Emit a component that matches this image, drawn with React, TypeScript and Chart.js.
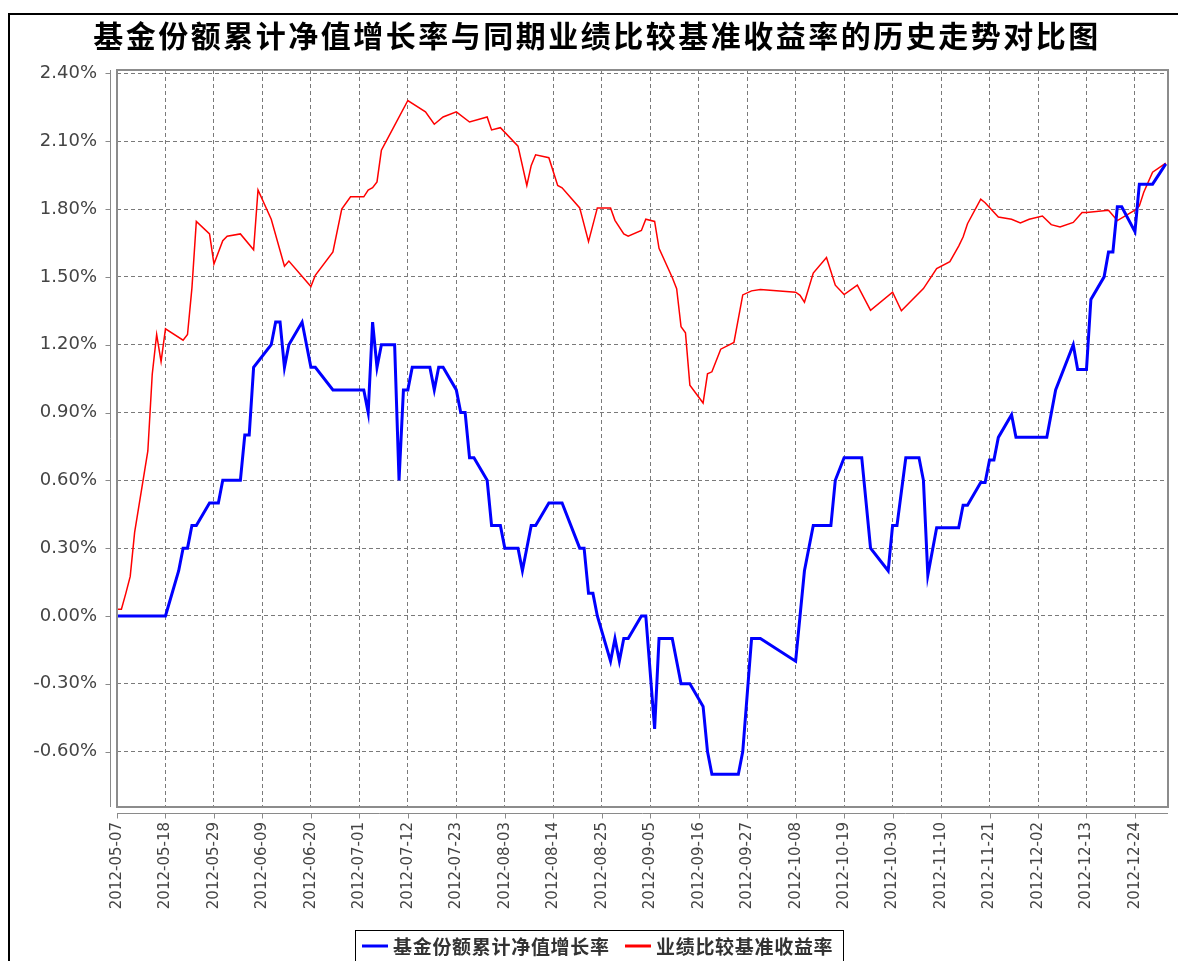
import React, { useEffect, useRef } from 'react';
import { Chart, registerables } from 'chart.js';

Chart.register(...registerables);

const W = 1178;
const H = 961;

const TITLE = '基金份额累计净值增长率与同期业绩比较基准收益率的历史走势对比图';
const SERIES_NAMES = ['基金份额累计净值增长率', '业绩比较基准收益率'];
const SERIES_COLORS = ['#0000ff', '#ff0000'];

const START_DATE = '2012-05-07';
const END_DATE = '2012-12-31';

const xTickLabels = [
  '2012-05-07', '2012-05-18', '2012-05-29', '2012-06-09', '2012-06-20', '2012-07-01',
  '2012-07-12', '2012-07-23', '2012-08-03', '2012-08-14', '2012-08-25', '2012-09-05',
  '2012-09-16', '2012-09-27', '2012-10-08', '2012-10-19', '2012-10-30', '2012-11-10',
  '2012-11-21', '2012-12-02', '2012-12-13', '2012-12-24',
];

const yTicks = [-0.6, -0.3, 0, 0.3, 0.6, 0.9, 1.2, 1.5, 1.8, 2.1, 2.4];
const Y_MIN = -0.845;
const Y_MAX = 2.415;

const fundDates = [
  '2012-05-07', '2012-05-18', '2012-05-21', '2012-05-22', '2012-05-23', '2012-05-24', '2012-05-25', '2012-05-28', '2012-05-30', '2012-05-31',
  '2012-06-04', '2012-06-05', '2012-06-06', '2012-06-07', '2012-06-11', '2012-06-12', '2012-06-13', '2012-06-14', '2012-06-15', '2012-06-18',
  '2012-06-20', '2012-06-21', '2012-06-25', '2012-07-02', '2012-07-03', '2012-07-04', '2012-07-05', '2012-07-06', '2012-07-09', '2012-07-10',
  '2012-07-11', '2012-07-12', '2012-07-13', '2012-07-17', '2012-07-18', '2012-07-19', '2012-07-20', '2012-07-23', '2012-07-24', '2012-07-25',
  '2012-07-26', '2012-07-27', '2012-07-30', '2012-07-31', '2012-08-02', '2012-08-03', '2012-08-06', '2012-08-07', '2012-08-09', '2012-08-10',
  '2012-08-13', '2012-08-16', '2012-08-20', '2012-08-21', '2012-08-22', '2012-08-23', '2012-08-24', '2012-08-27', '2012-08-28', '2012-08-29',
  '2012-08-30', '2012-08-31', '2012-09-03', '2012-09-04', '2012-09-06', '2012-09-07', '2012-09-10', '2012-09-12', '2012-09-14', '2012-09-17',
  '2012-09-18', '2012-09-19', '2012-09-25', '2012-09-26', '2012-09-28', '2012-09-30', '2012-10-08', '2012-10-09', '2012-10-10', '2012-10-12',
  '2012-10-16', '2012-10-17', '2012-10-19', '2012-10-23', '2012-10-24', '2012-10-25', '2012-10-29', '2012-10-30', '2012-10-31', '2012-11-02',
  '2012-11-05', '2012-11-06', '2012-11-07', '2012-11-09', '2012-11-14', '2012-11-15', '2012-11-16', '2012-11-19', '2012-11-20', '2012-11-21',
  '2012-11-22', '2012-11-23', '2012-11-26', '2012-11-27', '2012-12-04', '2012-12-06', '2012-12-10', '2012-12-11', '2012-12-13', '2012-12-14',
  '2012-12-17', '2012-12-18', '2012-12-19', '2012-12-20', '2012-12-21', '2012-12-24', '2012-12-25', '2012-12-28', '2012-12-31',
];
const fundValues = [
  0.0, 0.0, 0.2, 0.3, 0.3, 0.4, 0.4, 0.5, 0.5, 0.6,
  0.6, 0.8, 0.8, 1.1, 1.2, 1.3, 1.3, 1.1, 1.2, 1.3,
  1.1, 1.1, 1.0, 1.0, 0.9, 1.3, 1.1, 1.2, 1.2, 0.6,
  1.0, 1.0, 1.1, 1.1, 1.0, 1.1, 1.1, 1.0, 0.9, 0.9,
  0.7, 0.7, 0.6, 0.4, 0.4, 0.3, 0.3, 0.2, 0.4, 0.4,
  0.5, 0.5, 0.3, 0.3, 0.1, 0.1, 0.0, -0.2, -0.1, -0.2,
  -0.1, -0.1, 0.0, 0.0, -0.5, -0.1, -0.1, -0.3, -0.3, -0.4,
  -0.6, -0.7, -0.7, -0.6, -0.1, -0.1, -0.2, 0.0, 0.2, 0.4,
  0.4, 0.6, 0.7, 0.7, 0.5, 0.3, 0.2, 0.4, 0.4, 0.7,
  0.7, 0.6, 0.18, 0.39, 0.39, 0.49, 0.49, 0.59, 0.59, 0.69,
  0.69, 0.79, 0.89, 0.79, 0.79, 1.0, 1.2, 1.09, 1.09, 1.4,
  1.5, 1.61, 1.61, 1.81, 1.81, 1.7, 1.91, 1.91, 2.0,
];

const benchDates = [
  '2012-05-07', '2012-05-08', '2012-05-09', '2012-05-10', '2012-05-11', '2012-05-14', '2012-05-15', '2012-05-16', '2012-05-17', '2012-05-18',
  '2012-05-22', '2012-05-23', '2012-05-24', '2012-05-25', '2012-05-28', '2012-05-29', '2012-05-31', '2012-06-01', '2012-06-04', '2012-06-07',
  '2012-06-08', '2012-06-11', '2012-06-14', '2012-06-15', '2012-06-20', '2012-06-21', '2012-06-25', '2012-06-27', '2012-06-29', '2012-07-02',
  '2012-07-03', '2012-07-04', '2012-07-05', '2012-07-06', '2012-07-09', '2012-07-12', '2012-07-16', '2012-07-18', '2012-07-20', '2012-07-23',
  '2012-07-26', '2012-07-30', '2012-07-31', '2012-08-02', '2012-08-06', '2012-08-08', '2012-08-09', '2012-08-10', '2012-08-13', '2012-08-15',
  '2012-08-16', '2012-08-20', '2012-08-22', '2012-08-24', '2012-08-27', '2012-08-28', '2012-08-30', '2012-08-31', '2012-09-03', '2012-09-04',
  '2012-09-06', '2012-09-07', '2012-09-10', '2012-09-11', '2012-09-12', '2012-09-13', '2012-09-14', '2012-09-17', '2012-09-18', '2012-09-19',
  '2012-09-21', '2012-09-24', '2012-09-26', '2012-09-28', '2012-09-30', '2012-10-08', '2012-10-09', '2012-10-10', '2012-10-12', '2012-10-15',
  '2012-10-17', '2012-10-19', '2012-10-22', '2012-10-25', '2012-10-30', '2012-11-01', '2012-11-06', '2012-11-09', '2012-11-12', '2012-11-14',
  '2012-11-15', '2012-11-16', '2012-11-19', '2012-11-20', '2012-11-23', '2012-11-26', '2012-11-28', '2012-11-30', '2012-12-03', '2012-12-05',
  '2012-12-07', '2012-12-10', '2012-12-12', '2012-12-13', '2012-12-18', '2012-12-20', '2012-12-24', '2012-12-25', '2012-12-26', '2012-12-28',
  '2012-12-31',
];
const benchValues = [
  0.03, 0.03, 0.10, 0.175, 0.37, 0.73, 1.07, 1.245, 1.125, 1.27,
  1.22, 1.245, 1.45, 1.745, 1.69, 1.557, 1.66, 1.68, 1.69, 1.62,
  1.884, 1.755, 1.547, 1.57, 1.457, 1.507, 1.61, 1.80, 1.854, 1.854,
  1.884, 1.894, 1.92, 2.06, 2.17, 2.28, 2.23, 2.175, 2.207, 2.23,
  2.185, 2.207, 2.15, 2.16, 2.078, 1.904, 1.993, 2.04, 2.027, 1.904,
  1.894, 1.805, 1.656, 1.805, 1.805, 1.75, 1.69, 1.68, 1.705, 1.755,
  1.745, 1.626, 1.497, 1.448, 1.279, 1.253, 1.021, 0.942, 1.071, 1.08,
  1.18, 1.21, 1.42, 1.438, 1.444, 1.432, 1.418, 1.388, 1.517, 1.586,
  1.463, 1.422, 1.463, 1.352, 1.432, 1.35, 1.448, 1.537, 1.567, 1.636,
  1.676, 1.735, 1.844, 1.828, 1.765, 1.755, 1.739, 1.755, 1.769, 1.731,
  1.721, 1.741, 1.785, 1.785, 1.795, 1.749, 1.795, 1.814, 1.874, 1.963,
  2.003,
];

function dayIndex(d: string): number {
  const [y, m, dd] = d.split('-').map(Number);
  const [y0, m0, d0] = START_DATE.split('-').map(Number);
  return Math.round((Date.UTC(y, m - 1, dd) - Date.UTC(y0, m0 - 1, d0)) / 86400000);
}

const xTickDays = xTickLabels.map(dayIndex);
const X_MAX = dayIndex(END_DATE) + 0.5;

const toPoints = (dates: string[], vals: number[]) =>
  dates.map((d, i) => ({ x: dayIndex(d), y: vals[i] }));

const GRID_COLOR = '#7a7a7a';
const AXIS_COLOR = '#8a8a8a';
const LABEL_COLOR = '#444';

const decorPlugin = {
  id: 'decor',
  beforeDraw(chart: any) {
    const ctx = chart.ctx;
    ctx.save();
    ctx.fillStyle = '#fff';
    ctx.fillRect(0, 0, chart.width, chart.height);
    ctx.restore();
  },
  afterDraw(chart: any) {
    const ctx: CanvasRenderingContext2D = chart.ctx;
    const a = chart.chartArea;
    const xs = chart.scales.x;
    const ys = chart.scales.y;
    ctx.save();

    // outer frame (page box)
    ctx.strokeStyle = '#000';
    ctx.lineWidth = 2;
    ctx.beginPath();
    ctx.moveTo(9, H);
    ctx.lineTo(9, 14);
    ctx.lineTo(W, 14);
    ctx.stroke();

    // plot outline
    ctx.strokeStyle = '#8c8c8c';
    ctx.lineWidth = 2;
    ctx.strokeRect(a.left, a.top, a.right - a.left, a.bottom - a.top);

    // y axis line with ticks
    ctx.strokeStyle = AXIS_COLOR;
    ctx.lineWidth = 1;
    const axX = a.left - 6.5;
    ctx.beginPath();
    ctx.moveTo(axX, a.top);
    ctx.lineTo(axX, a.bottom);
    yTicks.forEach((v) => {
      const py = Math.round(ys.getPixelForValue(v)) + 0.5;
      ctx.moveTo(axX - 5, py);
      ctx.lineTo(axX, py);
    });
    ctx.stroke();

    // x axis line with ticks
    const axY = a.bottom + 6.5;
    ctx.beginPath();
    ctx.moveTo(a.left, axY);
    ctx.lineTo(a.right, axY);
    xTickDays.forEach((v) => {
      const px = Math.round(xs.getPixelForValue(v)) + 0.5;
      ctx.moveTo(px, axY);
      ctx.lineTo(px, axY + 5);
    });
    ctx.stroke();

    // title
    ctx.fillStyle = '#000';
    ctx.font = 'bold 30px "Noto Sans CJK SC"';
    ctx.textBaseline = 'middle';
    ctx.textAlign = 'left';
    (ctx as any).letterSpacing = '2.5px';
    const tw = ctx.measureText(TITLE).width;
    ctx.fillText(TITLE, 597 - tw / 2, 36);

    // legend
    (ctx as any).letterSpacing = '0.7px';
    ctx.strokeStyle = '#000';
    ctx.lineWidth = 1;
    ctx.strokeRect(355.5, 930.5, 488, 50);
    ctx.font = 'bold 19px "Noto Sans CJK SC"';
    ctx.fillStyle = '#333';
    const items = [
      { lx: 362, tx: 393 },
      { lx: 625, tx: 656 },
    ];
    items.forEach((it, i) => {
      ctx.strokeStyle = SERIES_COLORS[i];
      ctx.lineWidth = 3;
      ctx.beginPath();
      ctx.moveTo(it.lx, 946);
      ctx.lineTo(it.lx + 26, 946);
      ctx.stroke();
      ctx.fillText(SERIES_NAMES[i], it.tx, 947);
    });
    (ctx as any).letterSpacing = '0px';
    ctx.restore();
  },
};

export default function App() {
  const ref = useRef<HTMLCanvasElement>(null);

  useEffect(() => {
    document.body.style.margin = '0';
    document.body.style.overflow = 'hidden';
    const canvas = ref.current;
    if (!canvas) return;
    const chart = new Chart(canvas, {
      type: 'line',
      data: {
        datasets: [
          {
            label: SERIES_NAMES[0],
            data: toPoints(fundDates, fundValues),
            borderColor: SERIES_COLORS[0],
            backgroundColor: SERIES_COLORS[0],
            borderWidth: 3,
            pointRadius: 0,
            tension: 0,
            fill: false,
          },
          {
            label: SERIES_NAMES[1],
            data: toPoints(benchDates, benchValues),
            borderColor: SERIES_COLORS[1],
            backgroundColor: SERIES_COLORS[1],
            borderWidth: 1.5,
            pointRadius: 0,
            tension: 0,
            fill: false,
          },
        ],
      },
      options: {
        animation: false,
        responsive: false,
        devicePixelRatio: 1,
        layout: { padding: { top: 70, right: 10, left: 0, bottom: 0 } },
        plugins: {
          legend: { display: false },
          tooltip: { enabled: false },
          title: { display: false },
        },
        scales: {
          x: {
            type: 'linear',
            min: 0,
            max: X_MAX,
            afterBuildTicks: (s: any) => {
              s.ticks = xTickDays.map((v) => ({ value: v }));
            },
            afterFit: (s: any) => {
              s.height = 154;
            },
            ticks: {
              autoSkip: false,
              maxRotation: 90,
              minRotation: 90,
              padding: 15,
              color: LABEL_COLOR,
              font: { family: 'DejaVu Sans', size: 15 },
              callback: (_v: any, i: number) => xTickLabels[i],
            },
            grid: { color: GRID_COLOR, lineWidth: 1, drawTicks: false },
            border: { display: false, dash: [4, 3] },
          },
          y: {
            type: 'linear',
            min: Y_MIN,
            max: Y_MAX,
            afterBuildTicks: (s: any) => {
              s.ticks = yTicks.map((v) => ({ value: v }));
            },
            afterFit: (s: any) => {
              s.width = 117;
            },
            ticks: {
              padding: 20,
              color: LABEL_COLOR,
              font: { family: 'DejaVu Sans', size: 18 },
              callback: (v: any) => Number(v).toFixed(2) + '%',
            },
            grid: { color: GRID_COLOR, lineWidth: 1, drawTicks: false },
            border: { display: false, dash: [4, 3] },
          },
        },
      } as any,
      plugins: [decorPlugin],
    });
    return () => chart.destroy();
  }, []);

  return (
    <canvas
      ref={ref}
      width={W}
      height={H}
      style={{ position: 'absolute', left: 0, top: 0, display: 'block' }}
    />
  );
}
